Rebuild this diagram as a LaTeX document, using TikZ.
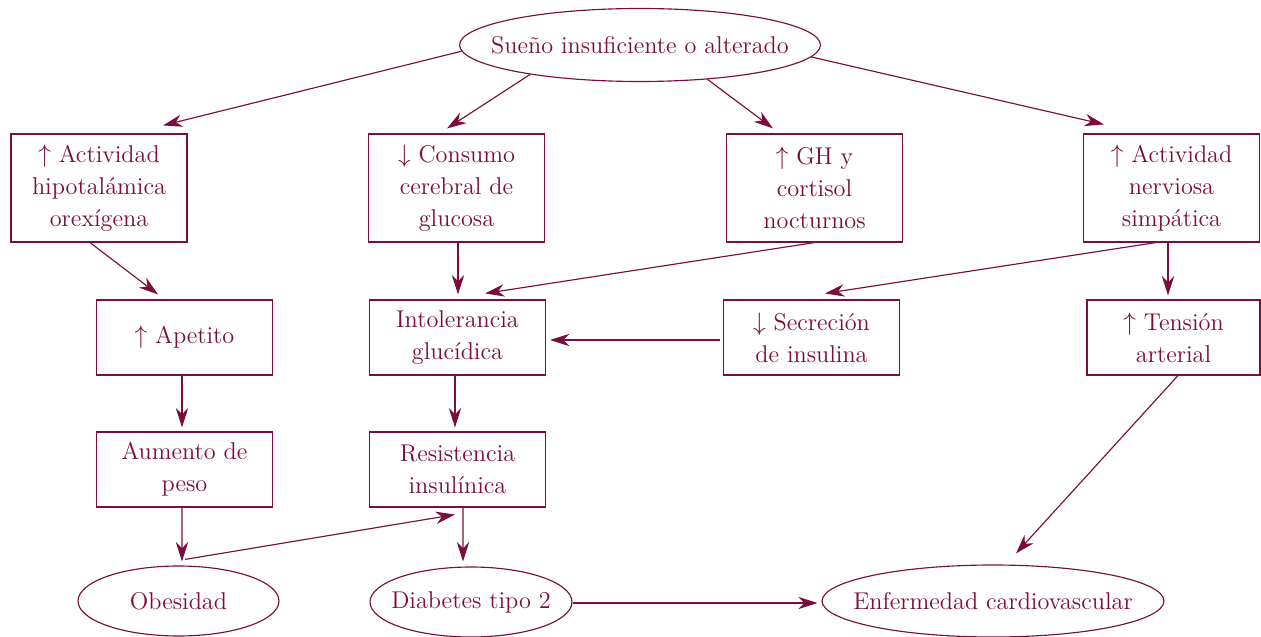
\documentclass[tikz,border=0pt]{standalone}
\usepackage{tikz}
\usetikzlibrary{shapes, shapes.geometric, arrows.meta, calc, positioning}
\definecolor{vino}{HTML}{7A0C3E}
\newcommand{\causa}[2]
{
	\draw[flecha] (#1) -- (#2)
}
\newcommand{\plano}[1]{\makebox[0pt]{#1}}

\begin{document}
\begin{tikzpicture}[x=0.02cm, y=0.02cm,
	every node/.append style={text=vino, align=center,
		font=\fontsize{13.8pt}{18.2pt}\selectfont},
	caja/.style={draw=vino, line width=0.65pt, shape=rectangle, inner sep=0pt,
		minimum width=3.52cm, minimum height=1.5cm},
	cajaalta/.style={caja, minimum height=2.16cm},
	elipse/.style={draw=vino, line width=0.65pt, shape=ellipse, inner sep=0pt,
		minimum height=1.4cm},
	flecha/.style={draw=vino, line width=0.65pt,
		-{Stealth[length=11pt, width=7pt, inset=3.5pt]}}]

	\useasboundingbox (0,0) rectangle (1261,636);

	\node[elipse, minimum width=7.22cm, minimum height=1.46cm] (sueno) at (640,591) {\plano{Sue\~no insuficiente o alterado}};

	\node[cajaalta] (hipot) at (99,448) {$\uparrow$ Actividad\\hipotal\'amica\\orex\'igena};
	\node[cajaalta] (consumo) at (456.5,448) {$\downarrow$ Consumo\\cerebral de\\glucosa};
	\node[cajaalta] (gh) at (814.5,448) {$\uparrow$ GH y\\cortisol\\nocturnos};
	\node[cajaalta] (simpat) at (1171.5,448) {$\uparrow$ Actividad\\nerviosa\\simp\'atica};

	\node[caja] (apetito) at (184.5,298.5) {$\uparrow$ Apetito};
	\node[caja] (intol) at (457.5,298.5) {Intolerancia\\gluc\'idica};
	\node[caja] (secrec) at (811.5,298.5) {$\downarrow$ Secreci\'on\\de insulina};
	\node[caja, minimum width=3.46cm] (tension) at (1173.5,298.5) {$\uparrow$ Tensi\'on\\arterial};

	\node[caja] (peso) at (184.5,166.5) {Aumento de\\peso};
	\node[caja] (resist) at (457.5,166.5) {Resistencia\\insul\'inica};

	\node[elipse, minimum width=4.02cm] (obes) at (178.5,35) {\plano{Obesidad}};
	\node[elipse, minimum width=4.04cm] (diab) at (471,34) {\plano{Diabetes tipo 2}};
	\node[elipse, minimum width=6.84cm, minimum height=1.44cm] (cardio) at (993,35) {\plano{Enfermedad cardiovascular}};

	% desde el sue\~no
	\causa{sueno.182}{$(hipot.north)+(64,8)$};
	\causa{sueno.195}{$(consumo.north)+(-9.5,5)$};
	\causa{sueno.333}{$(gh.north)+(-41.5,5)$};
	\causa{sueno.356}{$(simpat.north)+(-67.5,9)$};

	\causa{$(hipot.south)+(-9,0)$}{$(apetito.north)+(-26.5,5)$};
	\causa{$(consumo.south)+(1.5,0)$}{$(intol.north)+(0.5,5)$};
	\causa{gh.south}{$(intol.north)+(27.5,6)$};
	\causa{$(simpat.south)+(-15.5,0)$}{$(secrec.north)+(13.5,6)$};
	\causa{$(simpat.south)+(-3.5,0)$}{$(tension.north)+(-5.5,4)$};
	\causa{$(secrec.west)+(-3,-2.5)$}{$(intol.east)+(4,-2.5)$};

	\causa{$(apetito.south)+(-2.5,0)$}{$(peso.north)+(-2.5,4)$};
	\causa{$(intol.south)+(-2.5,0)$}{$(resist.north)+(-2.5,4)$};
	\causa{$(peso.south)+(-2.5,0)$}{$(obes.north)+(3.5,4)$};
	\causa{$(resist.south)+(5.5,0)$}{$(diab.north)+(-8,5)$};
	\causa{$(obes.north)+(6.5,6)$}{$(resist.south)+(-2.5,-7)$};
	\causa{$(tension.south)+(4.5,0)$}{$(cardio.north)+(23,11)$};
	\causa{$(diab.east)+(0,-1)$}{$(cardio.west)+(-4,-2)$};
\end{tikzpicture}
\end{document}
